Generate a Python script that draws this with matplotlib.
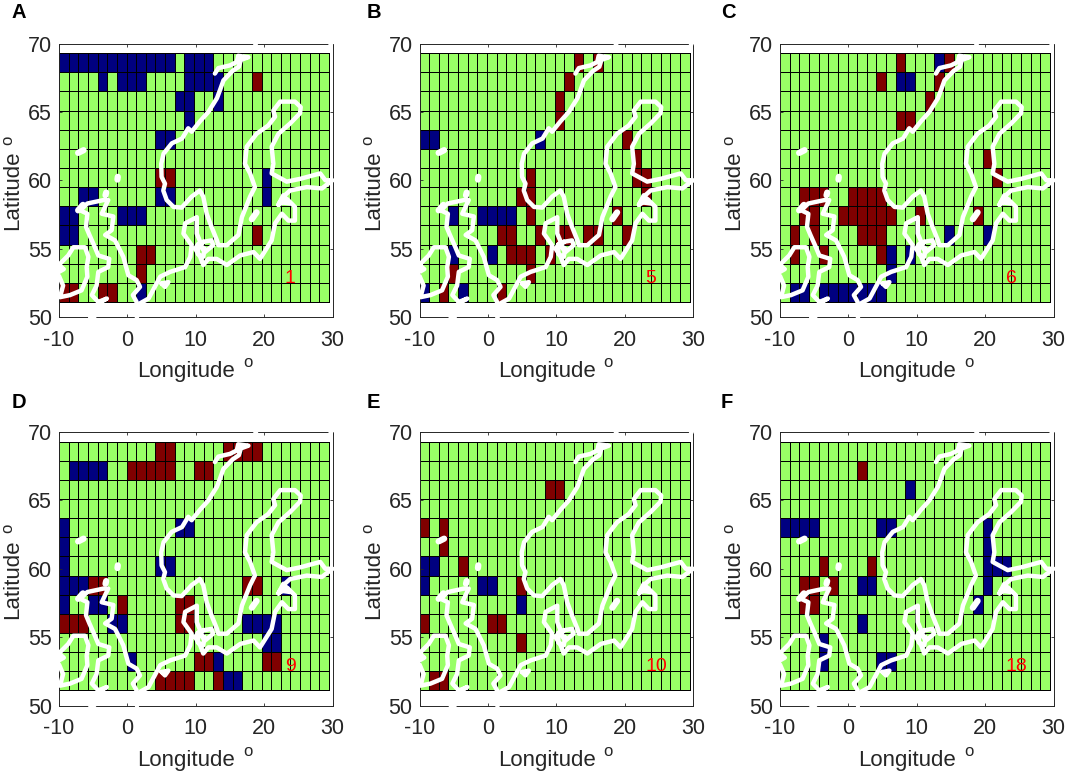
import numpy as np
import matplotlib
matplotlib.use('Agg')
import matplotlib.pyplot as plt
from matplotlib.colors import ListedColormap

plt.rcParams['font.family'] = ['Liberation Sans', 'DejaVu Sans']
plt.rcParams['axes.unicode_minus'] = False

# cells as (row from top, column from left)
A_blue = [(0, c) for c in range(12)] + [(0, 13), (0, 14), (0, 15), (1, 4), (1, 6), (1, 7), (1, 8), (1, 13), (1, 14),
          (1, 15), (1, 16), (2, 12), (2, 13), (2, 16), (3, 13), (4, 10), (4, 11), (6, 21), (7, 2), (7, 3), (7, 10),
          (7, 11), (7, 21), (8, 0), (8, 1), (8, 6), (8, 7), (8, 8), (9, 0), (9, 1), (12, 8)]
A_red = [(1, 20), (6, 10), (6, 11), (9, 20), (10, 8), (10, 9), (11, 8), (12, 0), (12, 1), (12, 4), (12, 5)]

B_blue = [(4, 0), (4, 1), (4, 12), (8, 3), (8, 6), (8, 7), (8, 8), (8, 9), (10, 3), (10, 7), (12, 0), (12, 4)]
B_red = [(0, 16), (0, 18), (1, 15), (2, 14), (3, 14), (4, 21), (5, 22), (6, 11), (6, 22), (6, 23), (7, 10), (7, 11),
         (7, 23), (8, 11), (8, 20), (9, 8), (9, 9), (9, 12), (9, 14), (9, 15), (9, 17), (9, 18), (9, 21), (10, 9),
         (10, 10), (10, 11), (10, 13), (11, 3), (11, 11), (12, 2), (12, 8)]

C_blue = [(0, 16), (1, 12), (1, 13), (9, 17), (9, 21), (10, 11), (10, 13), (11, 11), (12, 1), (12, 2), (12, 4),
          (12, 5), (12, 6), (12, 7), (12, 8), (12, 9), (12, 10)]
C_red = [(0, 12), (0, 17), (1, 10), (1, 16), (2, 15), (3, 12), (3, 13), (5, 21), (6, 22), (7, 2), (7, 3), (7, 4),
         (7, 7), (7, 8), (7, 9), (7, 10), (8, 2), (8, 3), (8, 6), (8, 7), (8, 8), (8, 9), (8, 10), (8, 11), (8, 14),
         (8, 20), (9, 1), (9, 3), (9, 8), (9, 9), (9, 10), (10, 1), (10, 4), (10, 10)]

D_blue = [(1, 1), (1, 2), (1, 3), (1, 4), (4, 0), (4, 12), (4, 13), (5, 0), (6, 0), (6, 10), (6, 11), (7, 0), (7, 1),
          (7, 2), (7, 23), (8, 0), (8, 3), (8, 4), (9, 5), (9, 6), (9, 19), (9, 20), (9, 21), (9, 22), (10, 21),
          (10, 22), (11, 7), (11, 16), (12, 17), (12, 18)]
D_red = [(0, 10), (0, 11), (0, 17), (0, 18), (0, 19), (0, 20), (1, 7), (1, 8), (1, 9), (1, 10), (1, 11), (1, 14),
         (1, 15), (7, 3), (7, 4), (7, 19), (7, 20), (8, 6), (8, 12), (8, 13), (9, 0), (9, 1), (9, 2), (9, 12), (9, 13),
         (11, 14), (11, 15), (11, 21), (11, 22), (12, 10), (12, 11), (12, 12), (12, 13), (12, 16)]

E_blue = [(6, 0), (6, 1), (7, 0), (7, 6), (7, 7), (8, 10)]
E_red = [(2, 13), (2, 14), (4, 0), (4, 2), (5, 2), (6, 4), (7, 10), (9, 0), (9, 7), (9, 8), (10, 10), (12, 1), (12, 2)]

F_blue = [(2, 13), (4, 0), (4, 1), (4, 2), (4, 3), (4, 10), (4, 11), (4, 21), (5, 21), (6, 21), (6, 22), (6, 23),
          (7, 8), (7, 9), (7, 21), (8, 20), (9, 8), (10, 4), (11, 4), (11, 10), (11, 11)]
F_red = [(1, 8), (6, 4), (6, 9), (7, 2), (7, 3), (7, 5), (8, 2), (8, 3)]

panel_letters = ['A', 'B', 'C', 'D', 'E', 'F']
panel_counts = ['1', '5', '6', '9', '10', '18']
panel_blue = [A_blue, B_blue, C_blue, D_blue, E_blue, F_blue]
panel_red = [A_red, B_red, C_red, D_red, E_red, F_red]

# coast (lon, lat)
scandinavia_lon = [12.8, 13.3, 15.0, 16.0, 16.2, 17.7, 16.6, 16.3, 15.4, 14.05, 13.55, 13.1, 11.85, 10.6, 9.4, 8.9, 8.0,
                   6.5, 5.3, 4.95, 5.0, 5.5, 5.25, 5.75, 6.75, 7.95, 9.4, 10.6, 11.1, 11.6, 12.3, 13.1, 13.3, 14.55,
                   16.25, 16.75, 17.95, 18.65, 17.95, 17.2, 17.45, 18.9, 20.6, 21.6, 21.35, 22.35, 24.5, 25.35, 25.25,
                   23.8, 22.1, 21.1, 21.35, 21.1, 23.3, 25.25, 28.2, 28.95, 30.0, 28.45, 26.25, 23.8, 22.8, 22.1, 23.4,
                   24.5, 24.5, 23.55, 22.6, 21.6, 21.1, 19.4, 18.45, 16.5, 14.55, 13.05, 11.85, 11.1, 10.65, 9.9, 10.65,
                   10.15, 10.15, 8.45, 8.2, 9.4, 9.2, 8.45, 6.25, 4.8, 3.1, 1.85, 1.4]
scandinavia_lat = [67.8, 68.2, 68.4, 68.65, 69.1, 69.0, 68.8, 68.3, 68.0, 67.3, 66.6, 66.0, 65.0, 64.3, 63.55, 63.8, 63.05,
                   62.7, 61.95, 61.2, 60.25, 59.75, 59.25, 58.55, 58.05, 58.0, 58.8, 59.25, 58.8, 57.55, 56.6, 55.6, 55.25,
                   55.25, 56.0, 57.3, 58.8, 59.5, 60.5, 61.2, 62.45, 63.4, 64.0, 64.65, 65.1, 65.75, 65.75, 65.35, 64.9,
                   64.15, 63.4, 62.45, 61.2, 60.5, 59.9, 60.1, 60.5, 60.0, 60.0, 59.4, 59.5, 59.25, 58.8, 58.2, 58.6,
                   58.05, 57.05, 57.05, 57.55, 56.85, 55.6, 54.25, 54.75, 54.5, 53.8, 54.25, 54.25, 53.8, 54.4, 55.0, 55.5,
                   56.1, 57.3, 56.85, 56.1, 55.25, 54.4, 53.65, 53.3, 52.95, 51.35, 51.0, 50.0]
britain_lon = [-5.45, -4.85, -4.25, -3.0, -4.25, -5.2, -4.5, -4.25, -2.8, -2.65, -4.25, -4.75, -5.55, -6.05, -5.85, -6.9,
               -5.85, -3.5, -2.8, -3.75, -2.05, -2.3, -3.25, -1.8, -0.6, 0.15, 1.35, 1.85, 0.8, 1.35, 1.4]
britain_lat = [50.0, 50.0, 51.0, 51.35, 51.1, 51.6, 52.3, 53.3, 53.65, 54.25, 54.5, 55.1, 56.0, 56.6, 57.55, 57.8,
               58.3, 58.55, 58.55, 57.55, 57.35, 56.35, 56.0, 55.6, 54.4, 53.05, 52.7, 52.2, 51.6, 51.1, 50.0]
ireland_lon = [-10.0, -9.3, -10.0, -9.85, -8.65, -7.9, -6.2, -5.7, -5.95, -5.85, -6.7, -8.4, -9.85, -9.4, -10.0]
ireland_lat = [53.8, 53.5, 53.3, 53.9, 54.5, 55.1, 55.1, 54.4, 53.65, 52.95, 51.95, 51.6, 51.45, 52.3, 53.0]
islands_lon = [[11.1, 12.3, 12.55, 11.35, 10.65, 11.1], [10.3, 11.3, 11.1, 10.3, 10.3], [5.0, 6.0, 5.5, 5.0],
               [22.1, 22.8, 23.8, 22.3, 22.1], [18.7, 18.9], [29.7, 29.9]]
islands_lat = [[55.5, 55.6, 55.25, 54.75, 55.2, 55.5], [55.3, 55.0, 54.4, 54.6, 55.3], [52.45, 52.55, 52.2, 52.45],
               [58.2, 58.9, 58.3, 58.4, 58.2], [69.9, 70.1], [69.9, 70.1]]
blobs_lon = [[-3.2, -3.1], [-1.45, -1.4], [-7.2, -6.4], [18.2, 18.9], [-7.2, -6.5]]
blobs_lat = [[58.9, 59.1], [60.05, 60.25], [62.0, 62.2], [57.15, 57.65], [57.8, 58.2]]

lon_edges = np.linspace(-10, 29.5, 29)
lat_edges = np.linspace(69.3, 51.1, 14)
cell_cmap = ListedColormap(['#000080', '#99ff66', '#800000'])

fig = plt.figure(figsize=(10.65, 7.73), dpi=100)
W, H = 1065., 773.
lefts = [59, 419.5, 780]
tops = [43.5, 432]
letter_x = [12, 367, 721]
letter_y = [12, 403]
side = 273.5
txt = '#262626'


def draw_coast(ax):
    kw = dict(color='white', clip_on=False, zorder=5, solid_capstyle='round', solid_joinstyle='round')
    ax.plot(scandinavia_lon, scandinavia_lat, lw=3.2, **kw)
    ax.plot(britain_lon, britain_lat, lw=3.2, **kw)
    ax.plot(ireland_lon, ireland_lat, lw=3.2, **kw)
    for xs, ys in zip(islands_lon, islands_lat):
        ax.plot(xs, ys, lw=3.2, **kw)
    for xs, ys in zip(blobs_lon, blobs_lat):
        ax.plot(xs, ys, lw=4.5, **kw)


for i in range(6):
    left = lefts[i % 3]
    top = tops[i // 3]
    ax = fig.add_axes([left / W, 1 - (top + side) / H, side / W, side / H])

    cells = np.ones((13, 28))
    for r, c in panel_blue[i]:
        cells[r, c] = 0
    for r, c in panel_red[i]:
        cells[r, c] = 2
    ax.pcolormesh(lon_edges, lat_edges, cells, cmap=cell_cmap, vmin=0, vmax=2, edgecolors='black', linewidth=0.65)
    draw_coast(ax)

    ax.set_xlim(-10, 30)
    ax.set_ylim(50, 70)
    ax.set_xticks([-10, 0, 10, 20, 30])
    ax.set_yticks([50, 55, 60, 65, 70])
    ax.tick_params(axis='both', direction='in', top=True, right=True, length=2.5, width=0.6, labelsize=15.5, colors=txt)
    ax.tick_params(axis='x', pad=9)
    ax.tick_params(axis='y', pad=5)
    for s in ax.spines.values():
        s.set_linewidth(0.7)
        s.set_color(txt)
    ax.set_xlabel('Longitude', fontsize=16, color=txt)
    ax.set_ylabel('Latitude', fontsize=16, color=txt)
    ax.xaxis.set_label_coords(0.466, -0.161)
    ax.yaxis.set_label_coords(-0.13, 0.4625)
    ax.text(0.69, -0.168, 'o', fontsize=12, color=txt, ha='center', va='center', transform=ax.transAxes)
    ax.text(-0.188, 0.647, 'o', fontsize=12, color=txt, ha='center', va='center', rotation=90, transform=ax.transAxes)
    ax.text(23.0, 52.85, panel_counts[i], color='red', fontsize=14, ha='left', va='center', zorder=6)
    fig.text(letter_x[i % 3] / W, 1 - letter_y[i // 3] / H, panel_letters[i], fontsize=14.5, fontweight='bold',
             color='black', ha='left', va='center')

fig.savefig('out.png', dpi=100)
